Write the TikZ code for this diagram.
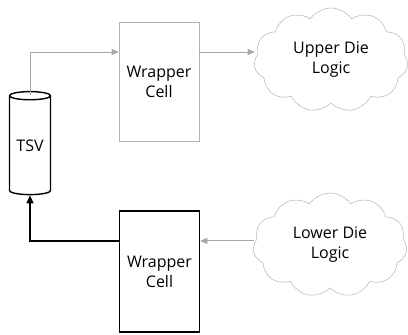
\documentclass[tikz,border=0pt]{standalone}
\usepackage{fontspec}
\setmainfont{Open Sans}
\usetikzlibrary{arrows.meta,positioning,shapes.geometric,shapes.symbols,calc}

\begin{document}
\begin{tikzpicture}[
  x=1pt, y=-1pt,
  lbl/.style={align=center, font=\fontsize{16}{20}\selectfont},
  cell/.style={lbl, rectangle, draw, minimum width=80pt, minimum height=119pt},
  logic/.style={lbl, cloud, draw=black!35, cloud puffs=11, cloud puff arc=110, aspect=1.5, minimum width=154pt, minimum height=104pt},
  via/.style={lbl, cylinder, shape border rotate=90, draw, line width=1.4pt, aspect=0.3, minimum width=41pt, minimum height=103pt, inner sep=0pt},
  garrow/.style={-{Triangle[length=7pt, width=6pt]}, draw=black!35, line width=0.8pt},
  barrow/.style={-{Triangle[length=8pt, width=7pt]}, line width=1.5pt},
]
  \useasboundingbox (0,0) rectangle (408,335);

  \node[via] (tsv) at (30,145.5) {TSV};

  \node[cell, draw=black!30, line width=0.8pt] (wcup) at (159,82) {Wrapper\\Cell};
  \node[cell, line width=1.5pt, minimum height=121pt] (wclow) at (159.5,271.5) {Wrapper\\Cell};

  \node[logic] (upper) at (331,60) {Upper Die\\Logic};
  \node[logic] (lower) at (330,245) {Lower Die\\Logic};

  % upper die path: TSV up into the wrapper cell, then out to the logic
  \coordinate (upin) at ($(wcup.north west)!0.25!(wcup.south west)$);
  \draw[garrow] ([yshift=-4pt]tsv.top) |- (upin);
  \draw[garrow] (upin -| wcup.east) -- (upin -| upper.west);

  % lower die path: logic into the wrapper cell, then up to the TSV
  \coordinate (lowout) at ($(wclow.north west)!0.25!(wclow.south west)$);
  \draw[garrow] (lowout -| lower.west) -- (lowout -| wclow.east);
  \draw[barrow] (lowout) -| (tsv.bottom);
\end{tikzpicture}
\end{document}
